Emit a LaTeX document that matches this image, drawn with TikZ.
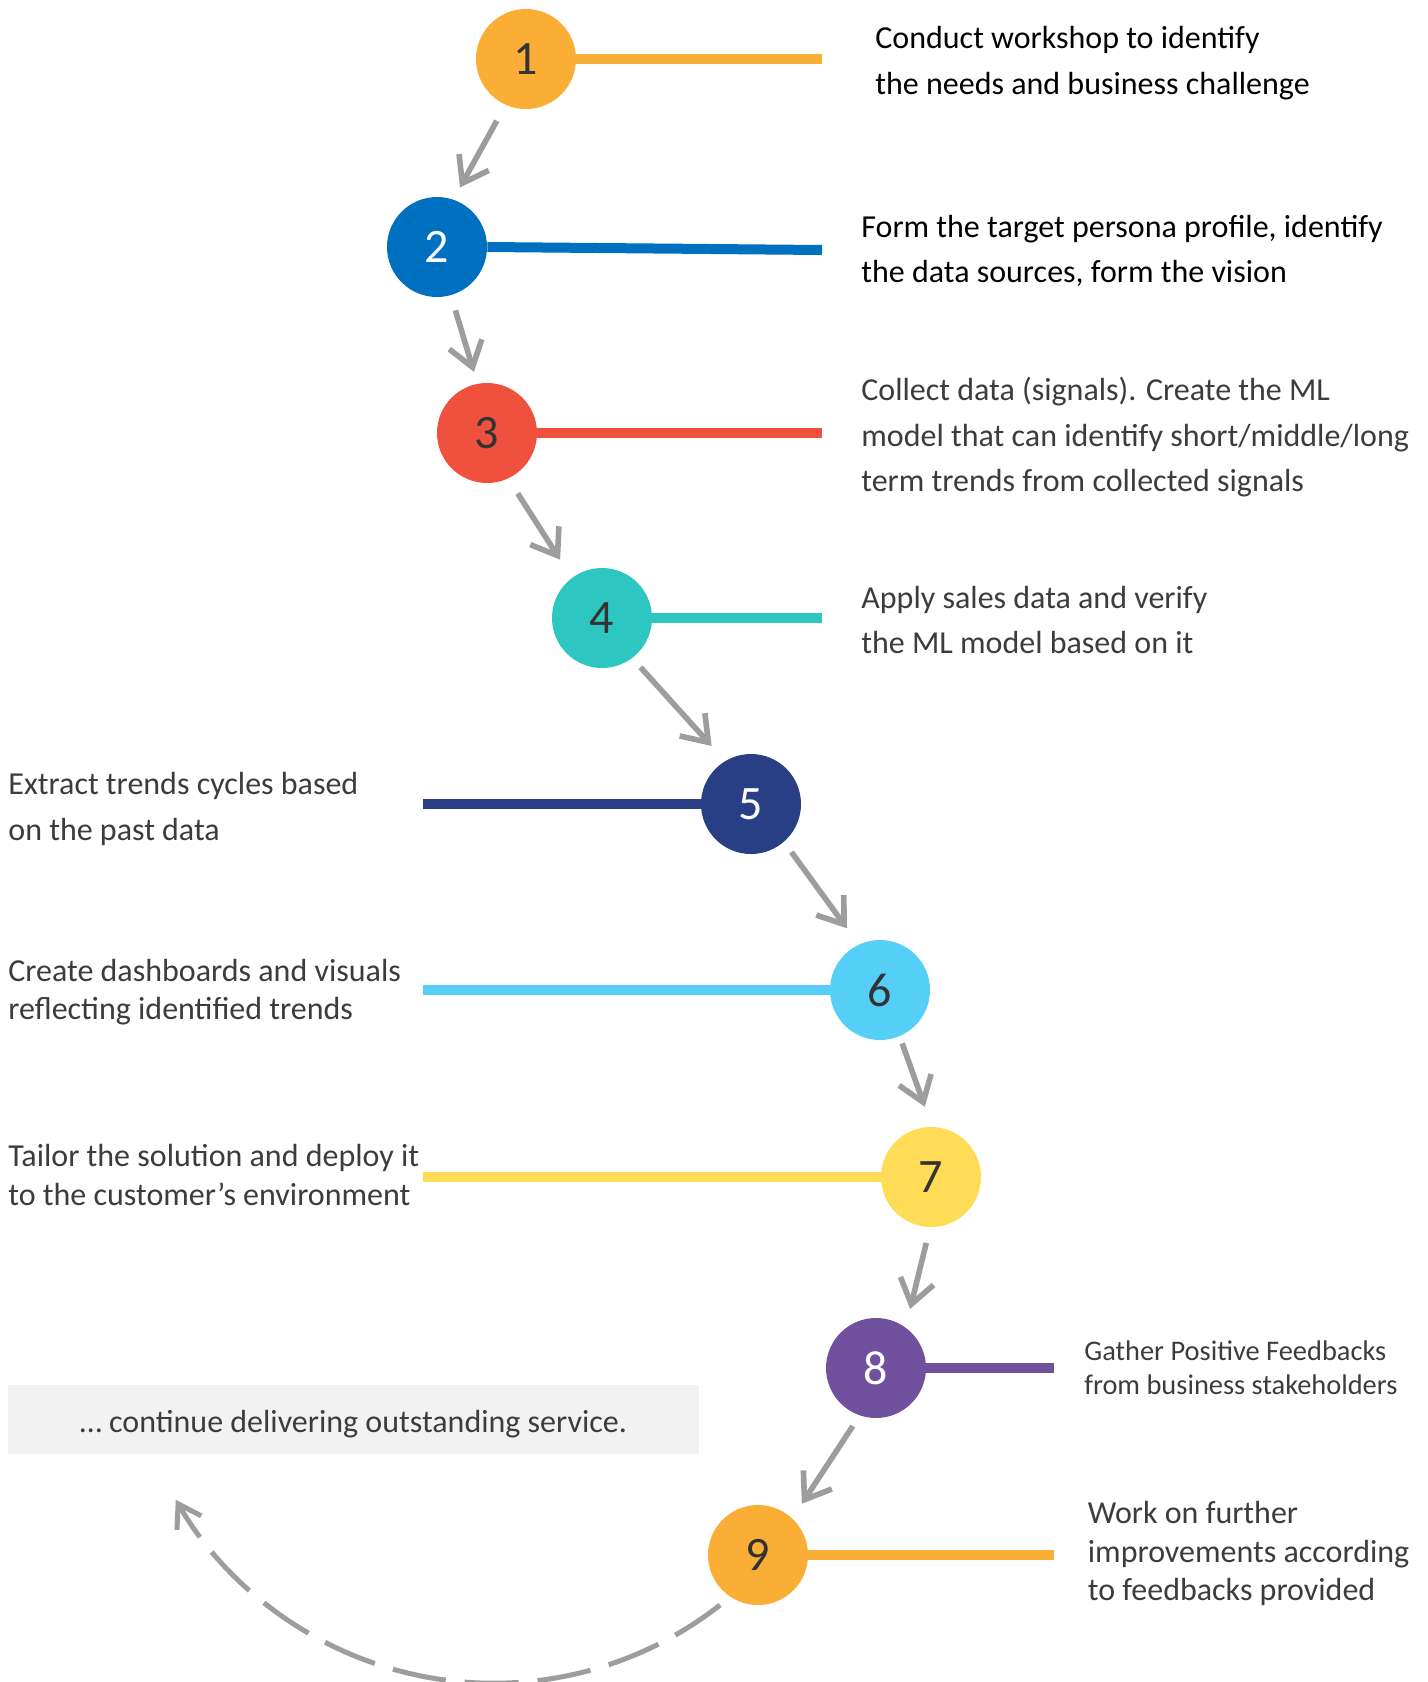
\documentclass[tikz,border=0pt]{standalone}
\usepackage{fontspec}
\setmainfont{Carlito}
\usetikzlibrary{arrows.meta,calc}

\definecolor{cOne}{HTML}{FBAE35}
\definecolor{cTwo}{HTML}{0070C0}
\definecolor{cThree}{HTML}{F0503E}
\definecolor{cFour}{HTML}{2EC6C0}
\definecolor{cFive}{HTML}{283F86}
\definecolor{cSix}{HTML}{55CFF8}
\definecolor{cSeven}{HTML}{FFDB56}
\definecolor{cEight}{HTML}{71519D}
\definecolor{flowgray}{HTML}{9D9D9D}
\definecolor{boxgray}{HTML}{F2F2F2}
\definecolor{txtgray}{HTML}{3C3C3C}
\definecolor{numdark}{HTML}{333333}

\begin{document}
\begin{tikzpicture}[x=0.5pt,y=-0.5pt,
  stepnum/.style={circle, minimum size=50pt, inner sep=0pt,
    font=\fontsize{24pt}{28pt}\selectfont},
  bar/.style={line width=5pt},
  flow/.style={draw=flowgray, line width=2.8pt,
    -{Straight Barb[length=12pt,width=17pt]}},
  loopline/.style={draw=flowgray, line width=2.5pt, dash pattern=on 27pt off 9.5pt,
    -{Straight Barb[length=11pt,width=14pt]}},
  % multi-line text: the base anchor sits on the last line's baseline
  desc/.style={anchor=base west, align=left, inner sep=0pt, text=txtgray,
    font=\fontsize{16pt}{22.8pt}\selectfont},
]
\useasboundingbox (0,0) rectangle (1428,1682);
\fill[white] (0,0) rectangle (1428,1682);

% step circles
\node[stepnum, fill=cOne,   text=numdark] (n1) at (526,59)   {1};
\node[stepnum, fill=cTwo,   text=white]   (n2) at (437,247)  {2};
\node[stepnum, fill=cThree, text=numdark] (n3) at (487,433)  {3};
\node[stepnum, fill=cFour,  text=numdark] (n4) at (602,618)  {4};
\node[stepnum, fill=cFive,  text=white]   (n5) at (751,804)  {5};
\node[stepnum, fill=cSix,   text=numdark] (n6) at (880,990)  {6};
\node[stepnum, fill=cSeven, text=numdark] (n7) at (931,1177) {7};
\node[stepnum, fill=cEight, text=white]   (n8) at (876,1368) {8};
\node[stepnum, fill=cOne,   text=numdark] (n9) at (758,1555) {9};

% leader bars
\coordinate (e1) at (822,59);
\coordinate (e2) at (822,250);
\coordinate (e3) at (822,433);
\coordinate (e4) at (822,618);
\coordinate (e5) at (423,804);
\coordinate (e6) at (423,990);
\coordinate (e7) at (423,1177);
\coordinate (e8) at (1054,1368);
\coordinate (e9) at (1054,1555);
\draw[bar, cOne]   (n1) -- (e1);
\draw[bar, cTwo]   (n2.east) -- (e2);
\draw[bar, cThree] (n3) -- (e3);
\draw[bar, cFour]  (n4) -- (e4);
\draw[bar, cFive]  (e5) -- (n5);
\draw[bar, cSix]   (e6) -- (n6);
\draw[bar, cSeven] (e7) -- (n7);
\draw[bar, cEight] (n8) -- (e8);
\draw[bar, cOne]   (n9) -- (e9);

% step-to-step arrows
\draw[flow, shorten <=9pt,   shorten >=6.8pt]  (n1.-114) -- (n2.71);
\draw[flow, shorten <=7.75pt, shorten >=6.1pt] (n2.-74)  -- (n3.101);
\draw[flow, shorten <=8.75pt, shorten >=10.7pt](n3.-65)  -- (n4.127);
\draw[flow, shorten <=6.1pt, shorten >=10pt]   (n4.-53.5) -- (n5.121);
\draw[flow, shorten <=6.2pt, shorten >=9.9pt]  (n5.-49)  -- (n6.115.5);
\draw[flow, shorten <=3.7pt, shorten >=10.5pt] (n6.-67.5) -- (n7.89);
\draw[flow, shorten <=8pt,   shorten >=9.4pt]  (n7.-91)  -- (n8.54.5);
\draw[flow, shorten <=6.2pt, shorten >=8.6pt]  (n8.-109) -- (n9.47);

% returning dashed loop
\coordinate (loop) at ($(n9)+(-127.2:31.4pt)$);
\draw[loopline] (loop) arc[start angle=-51.9, end angle=-150, radius=183.5pt];

% descriptions (placed by the baseline of their last line)
\node[desc, text=black] (t1) at (875,94.3)
  {Conduct workshop to identify\\the needs and business challenge};
\node[desc, text=black] (t2) at (861,282.7)
  {Form the target persona profile, identify\\the data sources, form the vision};
\node[desc] (t3) at (861,491.7)
  {Collect data (signals). Create the ML\\model that can identify short/middle/long\\term trends from collected signals};
\node[desc] (t4) at (861,653.6)
  {Apply sales data and verify\\the ML model based on it};
\node[desc] (t5) at (8,840)
  {Extract trends cycles based\\on the past data};
\node[desc, font=\fontsize{16pt}{18.8pt}\selectfont] (t6) at (8,1019.3)
  {Create dashboards and visuals\\reflecting identified trends};
\node[desc, font=\fontsize{16pt}{19.2pt}\selectfont] (t7) at (8,1205)
  {Tailor the solution and deploy it\\to the customer’s environment};
\node[desc, font=\fontsize{14.2pt}{16.8pt}\selectfont] (t8) at (1084,1394.3)
  {Gather Positive Feedbacks\\from business stakeholders};
\node[desc, font=\fontsize{16pt}{19.2pt}\selectfont] (t9) at (1087.5,1600.7)
  {Work on further\\improvements according\\to feedbacks provided};

% closing banner (fixed text height/depth set the baseline inside the band)
\node[fill=boxgray, minimum width=345.5pt, minimum height=34.5pt, inner sep=0pt,
  text height=16pt, text depth=2.6pt,
  text=txtgray, font=\fontsize{16pt}{19pt}\selectfont] (box) at (353.5,1419.5)
  {… continue delivering outstanding service.};
\end{tikzpicture}
\end{document}
